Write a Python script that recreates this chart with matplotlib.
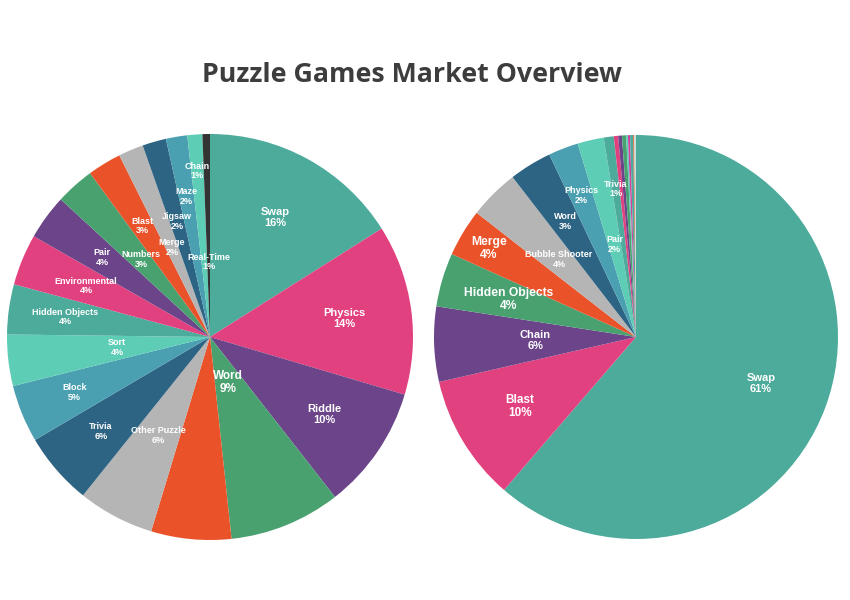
import numpy as np
import matplotlib
matplotlib.use("Agg")
import matplotlib.pyplot as plt

# цвета сегментов
teal = '#4dab9b'
pink = '#e2417f'
purple = '#6b4489'
green = '#49a170'
orange = '#ea5229'
gray = '#b5b5b5'
navy = '#2d6483'
blue = '#4aa0b0'
mint = '#5ecdb6'
dark = '#333333'

# левый круг
left_names = ['Swap', 'Physics', 'Riddle', 'Word', '', 'Other Puzzle', 'Trivia', 'Block', 'Sort',
              'Hidden Objects', 'Environmental', 'Pair', 'Numbers', 'Blast', 'Merge', 'Jigsaw',
              'Maze', 'Chain', 'Real-Time']
left_values = [16.1, 13.6, 9.9, 8.9, 6.4, 6.1, 5.8, 4.6, 4.1, 4.0, 4.1, 3.6, 3.1, 2.7, 2.0, 1.9,
               1.7, 1.2, 0.6]
left_colors = [teal, pink, purple, green, orange, gray, navy, blue, mint,
               teal, pink, purple, green, orange, gray, navy, blue, mint, dark]

# правый круг
right_names = ['Swap', 'Blast', 'Chain', 'Hidden Objects', 'Merge', 'Bubble Shooter', 'Word',
               'Physics', 'Pair', 'Trivia', '', '', '', '', '', '', '', '']
right_values = [61.3, 10.1, 6.0, 4.3, 3.8, 4.0, 3.4, 2.4, 2.1, 0.8, 0.35, 0.3, 0.33, 0.14, 0.17,
                0.25, 0.08, 0.14]
right_colors = [teal, pink, purple, green, orange, gray, navy, blue, mint,
                teal, pink, purple, green, mint, '#d63fa0', teal, orange, '#c8e0d8']

# где ставить подписи (доля радиуса) и размер шрифта
left_r = [0.67, 0.67, 0.68, 0.24, None, 0.55, 0.71, 0.72, 0.46, 0.72, 0.66, 0.66, 0.51, 0.64,
          0.48, 0.59, 0.70, 0.82, 0.37]
left_fs = [8, 8, 8, 8.5, 0, 6.5, 6.5, 6.5, 6.5, 6.5, 6.5, 6.5, 6.5, 6.5, 6.5, 6.5, 6.5, 6.5, 6.5]
right_r = [0.66, 0.67, 0.50, 0.66, 0.85, 0.54, 0.67, 0.75, 0.47, 0.74] + [None] * 8
right_fs = [8, 8.5, 8, 8.7, 8.7, 6.5, 6.5, 6.5, 6.5, 6.5] + [0] * 8


def draw_pie(ax, values, colors, names, radii, sizes):
    wedges, _ = ax.pie(values, colors=colors, startangle=90, counterclock=False,
                       wedgeprops=dict(linewidth=0))
    total = sum(values)
    for w, name, v, r, fs in zip(wedges, names, values, radii, sizes):
        if not r:
            continue
        ang = np.deg2rad((w.theta1 + w.theta2) / 2)
        ax.text(r * np.cos(ang), r * np.sin(ang), f'{name}\n{v / total * 100:.0f}%',
                ha='center', va='center', color='white', fontsize=fs, fontweight='bold',
                family='Liberation Sans', linespacing=1.1)
    ax.set_xlim(-1, 1)
    ax.set_ylim(-1, 1)
    ax.set_aspect('equal')
    ax.axis('off')


fig = plt.figure(figsize=(8.5, 6), dpi=100)
ax1 = fig.add_axes([7 / 850, 60 / 600, 406 / 850, 406 / 600])
ax2 = fig.add_axes([434 / 850, 61 / 600, 404 / 850, 404 / 600])

draw_pie(ax1, left_values, left_colors, left_names, left_r, left_fs)
draw_pie(ax2, right_values, right_colors, right_names, right_r, right_fs)

fig.text(412 / 850, 1 - 75 / 600, 'Puzzle Games Market Overview', ha='center', va='center',
         fontsize=19.3, fontweight='bold', family='Open Sans', color='#3d3d3d')

fig.savefig('out.png', dpi=100)
